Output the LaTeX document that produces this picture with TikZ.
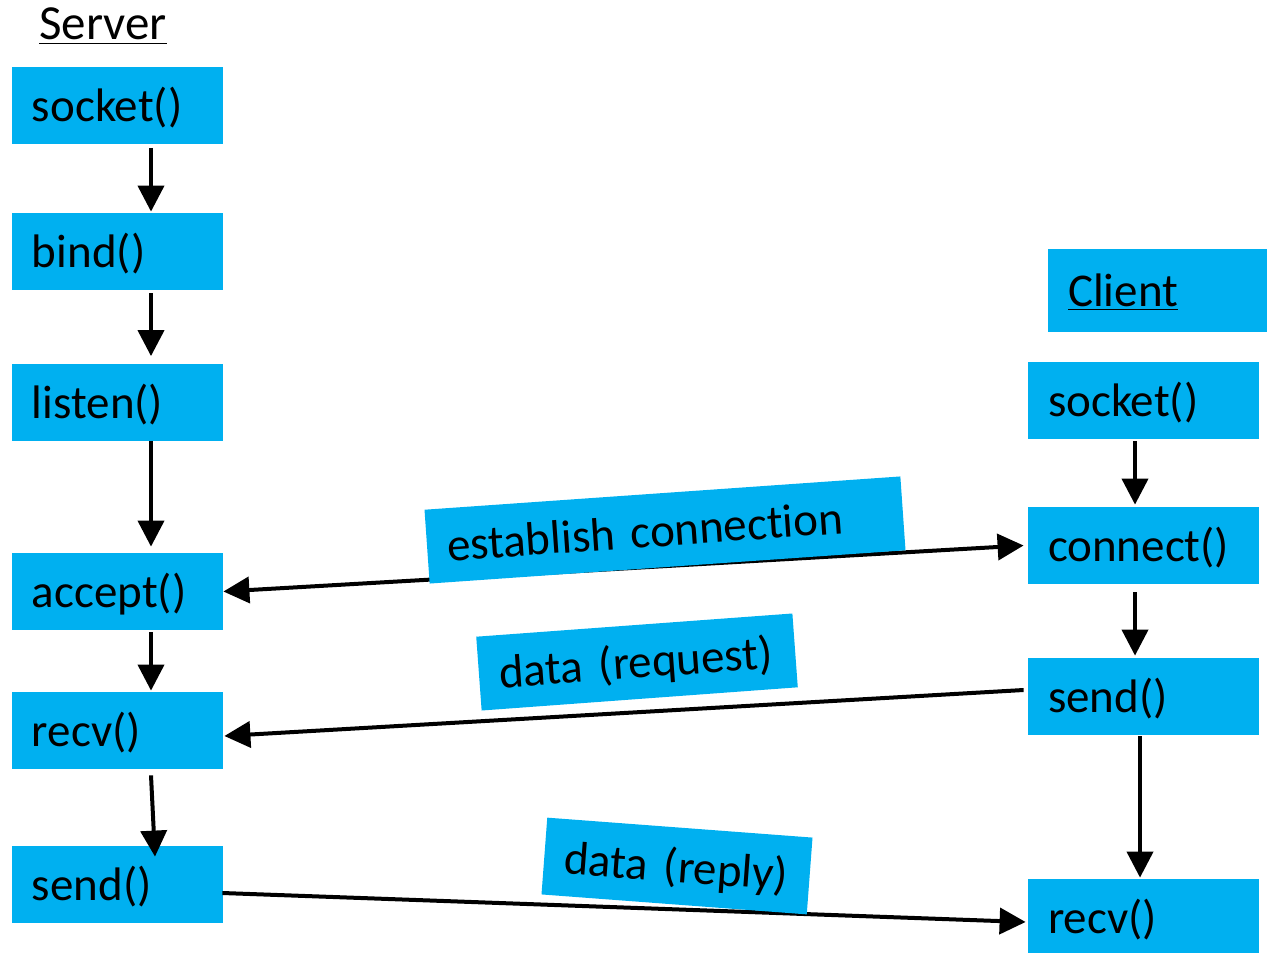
\documentclass[tikz,border=0pt]{standalone}
\usepackage{fontspec}
\setmainfont{Carlito}[Ligatures=NoCommon]
\usetikzlibrary{arrows.meta}
\definecolor{callblue}{HTML}{00B0F0}
\newcommand{\callfont}{\fontsize{23.5}{28}\selectfont\spaceskip=0.23em\relax}

\begin{document}
\begin{tikzpicture}[
        x=0.5pt,y=-0.5pt,
        call node/.style={fill=callblue,inner xsep=10pt,inner ysep=0pt,minimum height=38.5pt,text width=#1,text height=20pt,text depth=4pt,align=left,font=\callfont},
        call node/.default=85.5pt,
        tag node/.style={call node=#1,minimum height=37pt},
        flow/.style={line width=2pt,-{Triangle[width=13pt,length=13pt]}},
        both flow/.style={line width=2pt,{Triangle[width=13pt,length=13pt]}-{Triangle[width=13pt,length=13pt]}},
    ]
    \useasboundingbox (0,0) rectangle (1267,952);

    % server
    \def\sx{117.5}
    \node[inner sep=0pt,anchor=base west,font=\fontsize{24.5}{29}\selectfont] (stitle) at (39,40) {\underline{Server}};
    \node[call node] (ssocket) at (\sx,106) {socket()};
    \node[call node] (sbind) at (\sx,251.5) {bind()};
    \node[call node] (slisten) at (\sx,402) {listen()};
    \node[call node] (saccept) at (\sx,591.5) {accept()};
    \node[call node] (srecv) at (\sx,730.5) {recv()};
    \node[call node] (ssend) at (\sx,884.5) {send()};

    % client
    \def\cx{1143.5}
    \node[call node=95.5pt,minimum height=41.5pt] (ctitle) at (1163.5,290.5) {\underline{Client}};
    \node[call node=95.5pt] (csocket) at (\cx,400.5) {socket()};
    \node[call node=95.5pt] (cconnect) at (\cx,545.5) {connect()};
    \node[call node=95.5pt] (csend) at (\cx,696.5) {send()};
    \node[call node=95.5pt] (crecv) at (\cx,917.5) {recv()};

    \draw[flow] ([xshift=16.75pt,yshift=-1.5pt]ssocket.south) -- ([xshift=16.75pt,yshift=0.5pt]sbind.north);
    \draw[flow] ([xshift=16.75pt,yshift=-1.5pt]sbind.south) -- ([xshift=16.75pt,yshift=3.5pt]slisten.north);
    \draw[flow] ([xshift=16.75pt]slisten.south) -- ([xshift=16.75pt,yshift=3pt]saccept.north);
    \draw[flow] ([xshift=16.75pt,yshift=-1pt]saccept.south) -- ([xshift=16.75pt,yshift=0.5pt]srecv.north);
    \draw[flow] ([xshift=16.75pt,yshift=-3pt]srecv.south) -- ([xshift=18.75pt,yshift=-5.5pt]ssend.north);

    \draw[flow] ([xshift=-4.25pt,yshift=-1pt]csocket.south) -- ([xshift=-4.25pt,yshift=1pt]cconnect.north);
    \draw[flow] ([xshift=-4.25pt,yshift=-4pt]cconnect.south) -- ([xshift=-4.25pt,yshift=1pt]csend.north);
    \draw[flow] ([xshift=-1.75pt,yshift=-0.5pt]csend.south) -- ([xshift=-1.75pt,yshift=0.5pt]crecv.north);

    % messages
    \draw[both flow] (saccept.east) -- ([xshift=-2pt]cconnect.west);
    \draw[flow] ([xshift=-2pt,yshift=3.25pt]csend.west) -- ([xshift=0.5pt,yshift=-2.75pt]srecv.east);
    \draw[flow] ([xshift=-0.5pt,yshift=-4.25pt]ssend.east) -- ([xshift=-1pt,yshift=-2.25pt]crecv.west);

    \node[tag node=218.5pt,rotate=4] (lconnect) at (665,530) {establish connection};
    \node[tag node=138.5pt,rotate=4.2] (lrequest) at (637,662) {data (request)};
    \node[tag node=113pt,minimum height=38.5pt,rotate=-4.3] (lreply) at (677,866) {data (reply)};
\end{tikzpicture}
\end{document}
